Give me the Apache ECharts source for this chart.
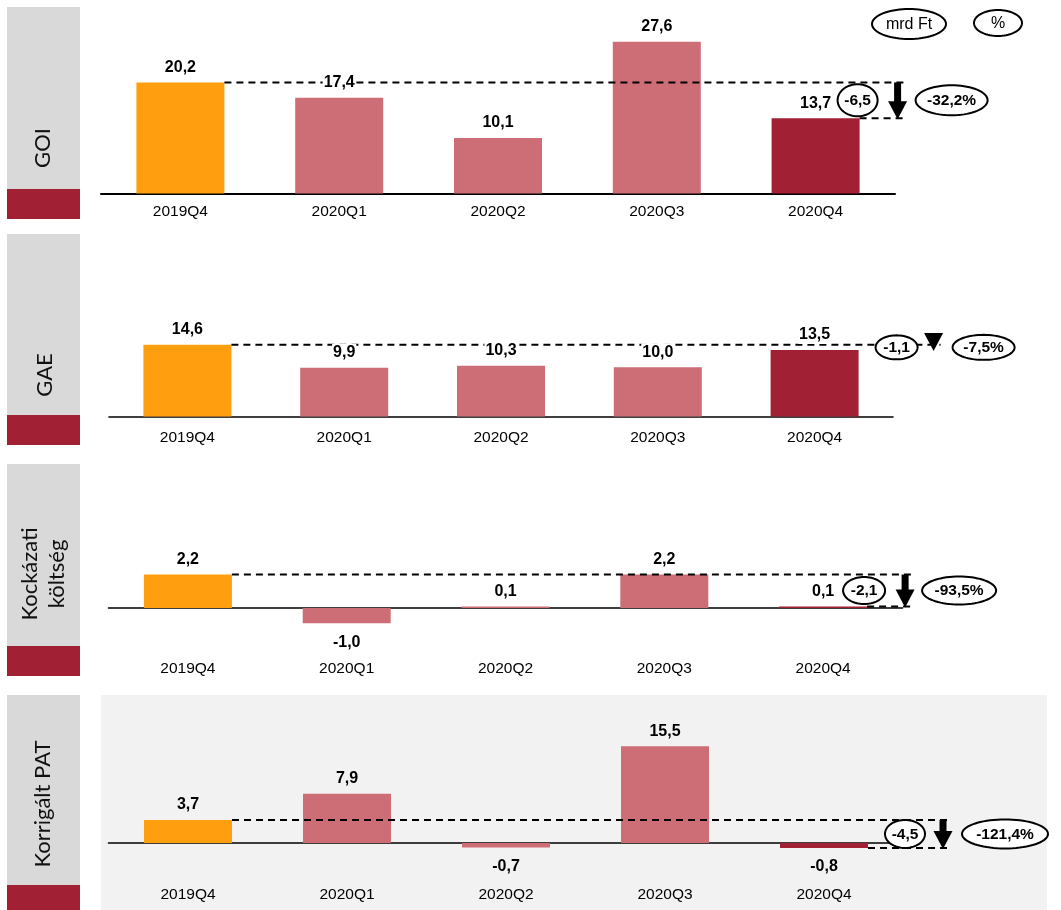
<!DOCTYPE html>
<html>
<head>
<meta charset="utf-8">
<script src="https://cdn.jsdelivr.net/npm/echarts@6/dist/echarts.min.js"></script>
<style>
  html, body { margin: 0; padding: 0; background: #fff; }
  #chart { width: 1061px; height: 910px; }
</style>
</head>
<body>
<div id="chart"></div>
<script>
// ---- data ----
const quarters = ['2019Q4', '2020Q1', '2020Q2', '2020Q3', '2020Q4'];
const goiValues = [20.2, 17.4, 10.1, 27.6, 13.7];
const gaeValues = [14.6, 9.9, 10.3, 10.0, 13.5];
const riskCostValues = [2.2, -1.0, 0.1, 2.2, 0.1];
const patValues = [3.7, 7.9, -0.7, 15.5, -0.8];
// year-on-year change (2020Q4 vs 2019Q4): absolute (mrd Ft) and relative (%)
const changeAbs = [-6.5, -1.1, -2.1, -4.5];
const changePct = [-32.2, -7.5, -93.5, -121.4];
const panelTitles = ['GOI', 'GAE', 'Kockázati\nköltség', 'Korrigált PAT'];
const unitLabels = ['mrd Ft', '%'];

const panelValues = [goiValues, gaeValues, riskCostValues, patValues];

// ---- styling / layout ----
const ORANGE = '#FF9F0F', PINK = '#CD6D75', DARKRED = '#A12033';
const barColors = [ORANGE, PINK, PINK, PINK, DARKRED];
const NARROW = '"Liberation Sans Narrow", "Arial Narrow", "Liberation Sans", Arial, sans-serif';
const TITLE_FONT = 'Lato, "Noto Sans", sans-serif';
const BAR_W = 88;

const layout = [
  { left: 101, width: 794, axisY: 193.5, min: 0, max: 30, ppu: 5.5, labelMargin: 10,
    arrowDx: 82, absDx: 42, pctDx: 136, absR: [20, 16], pctR: [36, 15], lowerLine: true,
    labelBg: '#fff', box: [7, 182, 30], titleXY: [43, 148] },
  { left: 109, width: 784, axisY: 416.5, min: 0, max: 20, ppu: 4.92, labelMargin: 13,
    arrowDx: 119, absDx: 82, pctDx: 169, absR: [21, 12], pctR: [31, 12.5], lowerLine: false,
    labelBg: '#fff', box: [234, 181, 30], titleXY: [45, 375] },
  { left: 108.5, width: 794, axisY: 608, min: -2, max: 4, ppu: 15.2, labelMargin: 22,
    arrowDx: 82, absDx: 41, pctDx: 136, absR: [21, 13.5], pctR: [37, 14], lowerLine: true,
    labelBg: 'transparent', box: [464, 182, 30], titleXY: [43, 574] },
  { left: 108.5, width: 795, axisY: 843, min: -2, max: 18, ppu: 6.25, labelMargin: 31,
    arrowDx: 119, absDx: 81, pctDx: 181, absR: [20, 14], pctR: [43, 14.5], lowerLine: true,
    labelBg: 'transparent', box: [695, 190, 25], titleXY: [43, 804] }
];

const fmt = v => v.toFixed(1).replace('.', ',');
const fmtPct = v => v.toFixed(1).replace('.', ',') + '%';

function ellipsePoints(cx, cy, rx, ry) {
  const pts = [];
  const n = 72;
  for (let k = 0; k < n; k++) {
    const a = (k / n) * Math.PI * 2;
    pts.push([cx + rx * Math.cos(a), cy + ry * Math.sin(a)]);
  }
  return pts;
}

function ellipseWithText(cx, cy, rx, ry, text, bold) {
  return [
    { type: 'polygon', shape: { points: ellipsePoints(cx, cy, rx, ry) },
      style: { fill: '#fff', stroke: '#000', lineWidth: 2 } },
    { type: 'text', x: cx, y: cy + 0.5,
      style: { text: text, fill: '#000', font: (bold ? 'bold ' : '') + '15.5px ' + NARROW,
               textAlign: 'center', textVerticalAlign: 'middle', align: 'center', verticalAlign: 'middle' } }
  ];
}

// dashed reference lines, change arrow and change bubbles for one panel
function annotationSeries(i) {
  const vals = panelValues[i];
  const L = layout[i];
  return {
    type: 'custom',
    xAxisIndex: i, yAxisIndex: i,
    clip: false, silent: true, z: 10,
    data: [[quarters.length - 1, vals[vals.length - 1]]],
    renderItem: function (params, api) {
      const first = api.coord([0, vals[0]]);
      const last = api.coord([vals.length - 1, vals[vals.length - 1]]);
      const half = BAR_W / 2;
      const arrowX = last[0] + L.arrowDx;
      const lineEnd = arrowX + 7;
      const yTop = first[1], yBot = last[1];
      const dash = { stroke: '#000', lineWidth: 2, lineDash: [7, 5] };
      const children = [];
      children.push({ type: 'line', shape: { x1: first[0] + half, y1: yTop, x2: lineEnd, y2: yTop }, style: dash });
      if (L.lowerLine) {
        children.push({ type: 'line', shape: { x1: last[0] + half, y1: yBot, x2: lineEnd, y2: yBot }, style: dash });
      }
      // downward arrow
      const head = 18, headHalf = 9.5, shaftHalf = 3.5;
      const tip = yBot + 1;
      const headTop = tip - head;
      if (headTop > yTop + 1) {
        children.push({ type: 'rect', shape: { x: arrowX - shaftHalf, y: yTop, width: shaftHalf * 2, height: headTop - yTop + 1 },
                        style: { fill: '#000' } });
      }
      children.push({ type: 'polygon', shape: { points: [[arrowX - headHalf, headTop], [arrowX + headHalf, headTop], [arrowX, tip]] },
                      style: { fill: '#000' } });
      const midY = (yTop + yBot) / 2;
      ellipseWithText(last[0] + L.absDx, midY, L.absR[0], L.absR[1], fmt(changeAbs[i]), true).forEach(e => children.push(e));
      ellipseWithText(last[0] + L.pctDx, midY, L.pctR[0], L.pctR[1], fmtPct(changePct[i]), true).forEach(e => children.push(e));
      return { type: 'group', children: children };
    }
  };
}

const grids = [], xAxes = [], yAxes = [], series = [];
layout.forEach((L, i) => {
  grids.push({ left: L.left, width: L.width, top: L.axisY - L.max * L.ppu, height: (L.max - L.min) * L.ppu });
  xAxes.push({
    type: 'category', gridIndex: i, data: quarters,
    axisLine: { onZero: true, lineStyle: { color: '#000', width: i === 0 ? 2 : 1.6 } },
    axisTick: { show: false },
    axisLabel: { margin: L.labelMargin, color: '#000', fontSize: 15.5, fontFamily: NARROW, interval: 0 },
    splitLine: { show: false }
  });
  yAxes.push({ type: 'value', gridIndex: i, min: L.min, max: L.max, show: false, splitLine: { show: false } });
  // bars
  series.push({
    type: 'bar', xAxisIndex: i, yAxisIndex: i, barWidth: BAR_W, barGap: '-100%', z: 2,
    data: panelValues[i].map((v, j) => ({ value: v, itemStyle: { color: barColors[j] } }))
  });
  series.push(annotationSeries(i));
  // value labels, drawn above the dashed reference lines
  series.push({
    type: 'bar', xAxisIndex: i, yAxisIndex: i, barWidth: BAR_W, barGap: '-100%', z: 20, silent: true,
    itemStyle: { color: 'rgba(0,0,0,0)' },
    data: panelValues[i].map(v => ({
      value: v,
      label: { position: v < 0 ? 'bottom' : 'top', distance: v < 0 ? 10 : 6 }
    })),
    label: {
      show: true, color: '#000', fontWeight: 'bold', fontSize: 16, fontFamily: NARROW,
      backgroundColor: L.labelBg, padding: [1, 1],
      formatter: p => fmt(p.value)
    }
  });
});

// side title boxes, panel background and unit bubbles
const graphics = [];
graphics.push({ type: 'rect', z: -10, shape: { x: 101, y: 695, width: 946, height: 215 }, style: { fill: '#F2F2F2' } });
layout.forEach((L, i) => {
  const [top, grayH, redH] = L.box;
  graphics.push({ type: 'rect', shape: { x: 7, y: top, width: 73, height: grayH }, style: { fill: '#D9D9D9' } });
  graphics.push({ type: 'rect', shape: { x: 7, y: top + grayH, width: 73, height: redH }, style: { fill: DARKRED } });
  graphics.push({
    type: 'text', x: L.titleXY[0], y: L.titleXY[1], rotation: Math.PI / 2,
    style: { text: panelTitles[i], fill: '#111', font: '22px ' + TITLE_FONT, lineHeight: 27,
             textAlign: 'center', textVerticalAlign: 'middle', align: 'center', verticalAlign: 'middle' }
  });
});
[[909, 24, 37, 15], [998, 23, 24, 13]].forEach((e, k) => {
  graphics.push({ type: 'polygon', shape: { points: ellipsePoints(e[0], e[1], e[2], e[3]) },
                  style: { fill: '#fff', stroke: '#000', lineWidth: 2 } });
  graphics.push({ type: 'text', x: e[0], y: e[1] + 0.5,
                  style: { text: unitLabels[k], fill: '#000', font: '16px ' + NARROW,
                           textAlign: 'center', textVerticalAlign: 'middle', align: 'center', verticalAlign: 'middle' } });
});

const chart = echarts.init(document.getElementById('chart'), null, { renderer: 'canvas' });
chart.setOption({
  animation: false,
  backgroundColor: '#fff',
  grid: grids, xAxis: xAxes, yAxis: yAxes, series: series,
  graphic: { elements: graphics }
});
</script>
</body>
</html>
